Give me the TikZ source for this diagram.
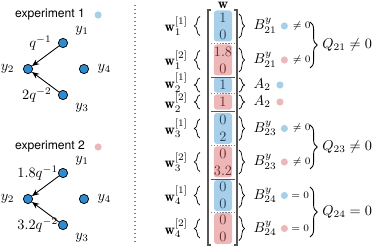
\documentclass[tikz,border=0pt]{standalone}
\usepackage{fontspec}
\setsansfont{TeX Gyre Heros}
\usepackage{tikz}
\usetikzlibrary{arrows.meta,positioning,decorations.pathreplacing}
\definecolor{cellblue}{HTML}{A8CFEA}
\definecolor{cellpink}{HTML}{EDB7B7}
\definecolor{nodeblue}{HTML}{2E8BD0}
\definecolor{textblue}{HTML}{27435F}
\definecolor{textred}{HTML}{6E2C2C}
\definecolor{rulegray}{HTML}{555555}

\begin{document}
\begin{tikzpicture}[x=0.7pt, y=0.7pt, >={Stealth[length=5pt,width=4pt]},
  ynode/.style={circle, draw=black, line width=0.5pt, fill=nodeblue, minimum size=6.5pt, inner sep=0pt},
  dotblue/.style={circle, fill=cellblue, minimum size=5pt, inner sep=0pt},
  dotpink/.style={circle, fill=cellpink, minimum size=5pt, inner sep=0pt},
  exptext/.style={font=\sffamily\fontsize{8.5}{10}\selectfont},
  bluecell/.style={fill=cellblue, text=textblue, rounded corners=2pt, minimum width=12.6pt, inner xsep=0pt, inner ysep=1pt, align=center},
  pinkcell/.style={bluecell, fill=cellpink, text=textred},
  tallcell/.style={minimum height=21.7pt},
  shortcell/.style={minimum height=10.8pt},
  lbrace/.style={decorate, decoration={brace, amplitude=4pt}, line width=0.5pt},
  rbrace/.style={decorate, decoration={brace, amplitude=4pt}, line width=0.5pt},
  bigbrace/.style={decorate, decoration={brace, amplitude=5pt}, line width=0.6pt},
  reltext/.style={font=\scriptsize, inner sep=1pt},
  sepdash/.style={dashed, dash pattern=on 1pt off 1pt, gray, line width=0.3pt},
  sepsolid/.style={rulegray, line width=0.5pt},
  bracket/.style={rulegray, line width=1pt}]
  \useasboundingbox (0,0) rectangle (374,248);

  % experiment 1
  \node[exptext] (exp1) at (50,233) {experiment 1};
  \node[dotblue, right=3pt of exp1] (exp1dot) {};
  \node[ynode, label={[label distance=2pt]20:$y_1$}, label={[label distance=1pt]180:$q^{-1}$}] (e1y1) at (63,205) {};
  \node[ynode, label={[label distance=2.5pt]180:$y_2$}] (e1y2) at (28,179) {};
  \node[ynode, label={[label distance=2.5pt]0:$y_4$}] (e1y4) at (84,179) {};
  \node[ynode, label={[label distance=2pt]-22:$y_3$}, label={[label distance=1pt]180:$2q^{-2}$}] (e1y3) at (63,153) {};
  \draw[->, line width=0.6pt] (e1y1) -- (e1y2);
  \draw[->, line width=0.6pt] (e1y3) -- (e1y2);

  % experiment 2
  \node[exptext] (exp2) at (50,101) {experiment 2};
  \node[dotpink, right=3pt of exp2] (exp2dot) {};
  \node[ynode, label={[label distance=2pt]20:$y_1$}, label={[label distance=-3.5pt]180:$1.8q^{-1}$}] (e2y1) at (63,75) {};
  \node[ynode, label={[label distance=2.5pt]180:$y_2$}] (e2y2) at (28,49) {};
  \node[ynode, label={[label distance=2.5pt]0:$y_4$}] (e2y4) at (84,49) {};
  \node[ynode, label={[label distance=2pt]-22:$y_3$}, label={[label distance=-3.5pt]180:$3.2q^{-2}$}] (e2y3) at (63,23) {};
  \draw[->, line width=0.6pt] (e2y1) -- (e2y2);
  \draw[->, line width=0.6pt] (e2y3) -- (e2y2);

  \draw[dotted, line width=0.8pt, gray] (135,243) -- (135,5);

  % stacked vector
  \node[inner sep=0pt, anchor=south] (wvec) at (223,239.5) {$\mathbf{w}$};
  \node[bluecell, tallcell] (c1b) at (223,222) {1\\0};
  \node[pinkcell, tallcell] (c1p) at (223,188) {1.8\\0};
  \node[bluecell, shortcell] (c2b) at (223,163) {1};
  \node[pinkcell, shortcell] (c2p) at (223,146) {1};
  \node[bluecell, tallcell] (c3b) at (223,119.5) {0\\2};
  \node[pinkcell, tallcell] (c3p) at (223,86) {0\\3.2};
  \node[bluecell, tallcell] (c4b) at (223,52.5) {0\\0};
  \node[pinkcell, tallcell] (c4p) at (223,19.5) {0\\0};
  \draw[sepdash] (211,205) -- (235,205);
  \draw[sepdash] (211,154.5) -- (235,154.5);
  \draw[sepdash] (211,102.5) -- (235,102.5);
  \draw[sepdash] (211,36) -- (235,36);
  \draw[sepsolid] (211,171) -- (235,171);
  \draw[sepsolid] (211,137) -- (235,137);
  \draw[sepsolid] (211,69) -- (235,69);
  \draw[bracket] (211,238) -- (208,238) -- (208,3) -- (211,3);
  \draw[bracket] (234,238) -- (237,238) -- (237,3) -- (234,3);

  % blocks on the left
  \draw[lbrace] (200,212.5) -- node[left=5pt] (w11) {$\mathbf{w}_1^{[1]}$} (200,231.5);
  \draw[lbrace] (200,178.5) -- node[left=5pt] (w12) {$\mathbf{w}_1^{[2]}$} (200,197.5);
  \draw[lbrace] (200,156) -- node[left=5pt, yshift=1.5pt, inner ysep=1pt] (w21) {$\mathbf{w}_2^{[1]}$} (200,170);
  \draw[lbrace] (200,139) -- node[left=5pt, yshift=-0.5pt, inner ysep=1pt] (w22) {$\mathbf{w}_2^{[2]}$} (200,153);
  \draw[lbrace] (200,110) -- node[left=5pt] (w31) {$\mathbf{w}_3^{[1]}$} (200,129);
  \draw[lbrace] (200,76.5) -- node[left=5pt] (w32) {$\mathbf{w}_3^{[2]}$} (200,95.5);
  \draw[lbrace] (200,43) -- node[left=5pt] (w41) {$\mathbf{w}_4^{[1]}$} (200,62);
  \draw[lbrace] (200,10) -- node[left=5pt] (w42) {$\mathbf{w}_4^{[2]}$} (200,29);

  % blocks on the right
  \draw[rbrace] (239,234) -- node[right=9pt, inner sep=1pt] (b21a) {$B^y_{21}$} (239,210);
  \draw[rbrace] (239,200) -- node[right=9pt, inner sep=1pt] (b21b) {$B^y_{21}$} (239,176);
  \draw[rbrace] (239,170) -- node[right=9pt, inner sep=1pt] (a2a) {$A_2$} (239,156);
  \draw[rbrace] (239,153) -- node[right=9pt, inner sep=1pt] (a2b) {$A_2$} (239,139);
  \draw[rbrace] (239,131.5) -- node[right=9pt, inner sep=1pt] (b23a) {$B^y_{23}$} (239,107.5);
  \draw[rbrace] (239,98) -- node[right=9pt, inner sep=1pt] (b23b) {$B^y_{23}$} (239,74);
  \draw[rbrace] (239,64.5) -- node[right=9pt, inner sep=1pt] (b24a) {$B^y_{24}$} (239,40.5);
  \draw[rbrace] (239,31.5) -- node[right=9pt, inner sep=1pt] (b24b) {$B^y_{24}$} (239,7.5);
  \node[dotblue, right=1.5pt of b21a] (b21adot) {};
  \node[dotpink, right=1.5pt of b21b] (b21bdot) {};
  \node[dotblue, right=2.5pt of a2a] (a2adot) {};
  \node[dotpink, right=2.5pt of a2b] (a2bdot) {};
  \node[dotblue, right=1.5pt of b23a] (b23adot) {};
  \node[dotpink, right=1.5pt of b23b] (b23bdot) {};
  \node[dotblue, right=1.5pt of b24a] (b24adot) {};
  \node[dotpink, right=1.5pt of b24b] (b24bdot) {};
  \node[reltext, right=2pt of b21adot] (r21a) {$\neq 0$};
  \node[reltext, right=2pt of b21bdot] (r21b) {$\neq 0$};
  \node[reltext, right=2pt of b23adot] (r23a) {$\neq 0$};
  \node[reltext, right=2pt of b23bdot] (r23b) {$\neq 0$};
  \node[reltext, right=1pt of b24adot] (r24a) {$= 0$};
  \node[reltext, right=1pt of b24bdot] (r24b) {$= 0$};

  \draw[bigbrace] (310,226) -- node[right=5pt] (q21) {$Q_{21}\neq 0$} (310,180);
  \draw[bigbrace] (310,123) -- node[right=5pt] (q23) {$Q_{23}\neq 0$} (310,79);
  \draw[bigbrace] (310,61) -- node[right=5pt] (q24) {$Q_{24}=0$} (310,11);
\end{tikzpicture}
\end{document}
